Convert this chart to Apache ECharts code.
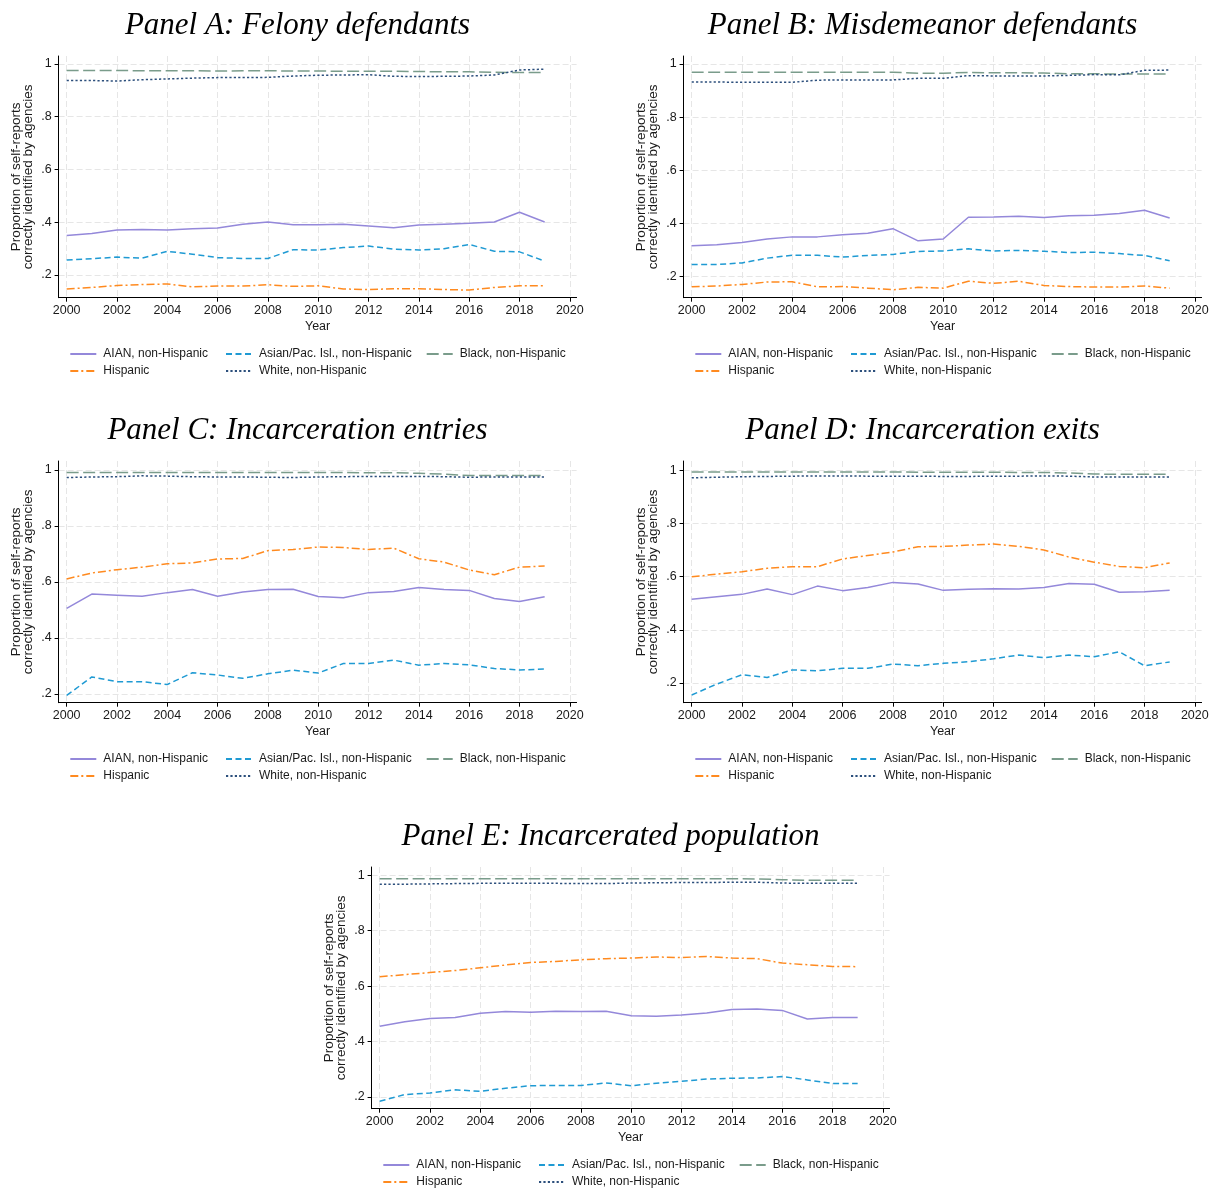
<!DOCTYPE html>
<html>
<head>
<meta charset="utf-8">
<title>Self-reports correctly identified by agencies</title>
<script src="https://cdn.jsdelivr.net/npm/echarts@6/dist/echarts.min.js"></script>
<style>
  html, body { margin: 0; padding: 0; background: #fff; }
  #chart { width: 1217px; height: 1192px; }
</style>
</head>
<body>
<div id="chart"></div>
<script>
  // categories and ticks
  const years = [2000, 2001, 2002, 2003, 2004, 2005, 2006, 2007, 2008, 2009,
                 2010, 2011, 2012, 2013, 2014, 2015, 2016, 2017, 2018, 2019];
  const xTicks = [2000, 2002, 2004, 2006, 2008, 2010, 2012, 2014, 2016, 2018, 2020];
  const yTicks = [0.2, 0.4, 0.6, 0.8, 1];
  const groupNames = ['AIAN, non-Hispanic', 'Asian/Pac. Isl., non-Hispanic', 'Black, non-Hispanic',
                      'Hispanic', 'White, non-Hispanic'];

  // Panel A: Felony defendants
  const aianA  = [0.349, 0.357, 0.370, 0.372, 0.370, 0.375, 0.377, 0.392, 0.400, 0.390, 0.390, 0.392, 0.385, 0.378, 0.389, 0.392, 0.395, 0.400, 0.437, 0.400];
  const asianA = [0.256, 0.261, 0.267, 0.263, 0.289, 0.278, 0.265, 0.262, 0.262, 0.295, 0.294, 0.303, 0.309, 0.297, 0.294, 0.299, 0.315, 0.289, 0.287, 0.252];
  const blackA = [0.975, 0.975, 0.975, 0.974, 0.974, 0.974, 0.973, 0.974, 0.974, 0.973, 0.973, 0.972, 0.972, 0.972, 0.971, 0.970, 0.970, 0.968, 0.967, 0.967];
  const hispA  = [0.146, 0.152, 0.159, 0.163, 0.165, 0.154, 0.157, 0.157, 0.162, 0.156, 0.158, 0.146, 0.144, 0.147, 0.147, 0.144, 0.142, 0.152, 0.158, 0.158];
  const whiteA = [0.937, 0.937, 0.935, 0.940, 0.943, 0.946, 0.948, 0.948, 0.949, 0.954, 0.957, 0.958, 0.959, 0.953, 0.952, 0.953, 0.954, 0.958, 0.977, 0.980];

  // Panel B: Misdemeanor defendants
  const aianB  = [0.316, 0.319, 0.328, 0.341, 0.349, 0.349, 0.357, 0.363, 0.380, 0.334, 0.341, 0.423, 0.424, 0.427, 0.422, 0.429, 0.430, 0.437, 0.449, 0.420];
  const asianB = [0.245, 0.245, 0.251, 0.269, 0.280, 0.280, 0.273, 0.279, 0.283, 0.294, 0.296, 0.304, 0.296, 0.298, 0.295, 0.290, 0.291, 0.286, 0.279, 0.259];
  const blackB = [0.969, 0.969, 0.969, 0.969, 0.969, 0.969, 0.969, 0.969, 0.969, 0.965, 0.965, 0.968, 0.967, 0.967, 0.966, 0.963, 0.963, 0.962, 0.962, 0.962];
  const hispB  = [0.161, 0.164, 0.170, 0.179, 0.180, 0.161, 0.162, 0.156, 0.150, 0.159, 0.156, 0.182, 0.174, 0.182, 0.166, 0.162, 0.160, 0.160, 0.164, 0.156];
  const whiteB = [0.932, 0.932, 0.931, 0.931, 0.931, 0.939, 0.940, 0.940, 0.940, 0.946, 0.946, 0.956, 0.955, 0.955, 0.955, 0.957, 0.960, 0.959, 0.976, 0.977];

  // Panel C: Incarceration entries
  const aianC  = [0.506, 0.557, 0.553, 0.549, 0.562, 0.573, 0.549, 0.564, 0.573, 0.574, 0.548, 0.544, 0.562, 0.566, 0.580, 0.573, 0.570, 0.541, 0.530, 0.547];
  const asianC = [0.195, 0.261, 0.244, 0.244, 0.234, 0.276, 0.268, 0.256, 0.272, 0.285, 0.275, 0.309, 0.309, 0.321, 0.303, 0.309, 0.304, 0.291, 0.286, 0.289];
  const blackC = [0.991, 0.991, 0.991, 0.991, 0.991, 0.991, 0.991, 0.991, 0.991, 0.991, 0.991, 0.991, 0.990, 0.990, 0.988, 0.985, 0.980, 0.980, 0.980, 0.980];
  const hispC  = [0.611, 0.632, 0.644, 0.653, 0.665, 0.668, 0.682, 0.684, 0.712, 0.716, 0.725, 0.723, 0.716, 0.721, 0.683, 0.671, 0.643, 0.626, 0.653, 0.657];
  const whiteC = [0.973, 0.975, 0.976, 0.979, 0.978, 0.976, 0.975, 0.975, 0.974, 0.973, 0.975, 0.976, 0.977, 0.977, 0.977, 0.976, 0.974, 0.975, 0.975, 0.975];

  // Panel D: Incarceration exits
  const aianD  = [0.515, 0.524, 0.533, 0.553, 0.532, 0.564, 0.547, 0.559, 0.578, 0.572, 0.548, 0.552, 0.554, 0.553, 0.559, 0.574, 0.571, 0.541, 0.543, 0.548];
  const asianD = [0.155, 0.196, 0.231, 0.221, 0.249, 0.246, 0.255, 0.255, 0.271, 0.265, 0.274, 0.280, 0.291, 0.305, 0.295, 0.305, 0.299, 0.317, 0.265, 0.279];
  const blackD = [0.993, 0.993, 0.993, 0.993, 0.993, 0.993, 0.993, 0.993, 0.993, 0.992, 0.992, 0.992, 0.992, 0.991, 0.991, 0.989, 0.985, 0.984, 0.984, 0.984];
  const hispD  = [0.599, 0.609, 0.618, 0.631, 0.637, 0.637, 0.666, 0.679, 0.692, 0.712, 0.713, 0.718, 0.722, 0.713, 0.700, 0.673, 0.654, 0.638, 0.633, 0.651];
  const whiteD = [0.971, 0.973, 0.975, 0.976, 0.977, 0.978, 0.978, 0.977, 0.977, 0.977, 0.976, 0.976, 0.977, 0.977, 0.978, 0.977, 0.974, 0.974, 0.974, 0.974];

  // Panel E: Incarcerated population
  const aianE  = [0.455, 0.471, 0.483, 0.486, 0.502, 0.508, 0.505, 0.509, 0.508, 0.509, 0.493, 0.491, 0.495, 0.503, 0.515, 0.517, 0.512, 0.481, 0.486, 0.486];
  const asianE = [0.184, 0.208, 0.214, 0.225, 0.220, 0.231, 0.240, 0.241, 0.241, 0.250, 0.240, 0.249, 0.256, 0.264, 0.267, 0.268, 0.273, 0.261, 0.248, 0.248];
  const blackE = [0.988, 0.988, 0.988, 0.988, 0.988, 0.988, 0.988, 0.988, 0.988, 0.988, 0.988, 0.988, 0.988, 0.988, 0.988, 0.987, 0.984, 0.982, 0.982, 0.982];
  const hispE  = [0.634, 0.641, 0.649, 0.656, 0.666, 0.676, 0.685, 0.689, 0.695, 0.699, 0.701, 0.705, 0.703, 0.707, 0.701, 0.699, 0.683, 0.677, 0.671, 0.670];
  const whiteE = [0.968, 0.968, 0.969, 0.970, 0.971, 0.971, 0.971, 0.971, 0.970, 0.970, 0.972, 0.973, 0.974, 0.974, 0.975, 0.975, 0.972, 0.971, 0.971, 0.971];

  const panels = [
    { title: 'Panel A: Felony defendants',        data: [aianA, asianA, blackA, hispA, whiteA], yMin: 0.113, yMax: 1.030, dx: 0,   dy: 0 },
    { title: 'Panel B: Misdemeanor defendants',   data: [aianB, asianB, blackB, hispB, whiteB], yMin: 0.120, yMax: 1.030, dx: 625, dy: 0 },
    { title: 'Panel C: Incarceration entries',    data: [aianC, asianC, blackC, hispC, whiteC], yMin: 0.169, yMax: 1.032, dx: 0,   dy: 405 },
    { title: 'Panel D: Incarceration exits',      data: [aianD, asianD, blackD, hispD, whiteD], yMin: 0.126, yMax: 1.034, dx: 625, dy: 405 },
    { title: 'Panel E: Incarcerated population',  data: [aianE, asianE, blackE, hispE, whiteE], yMin: 0.157, yMax: 1.030, dx: 313, dy: 811 }
  ];

  // Stata-like line looks, same order as groupNames
  const lineLooks = [
    { color: '#9488da', type: 'solid' },
    { color: '#1f9ad3', type: [6, 3.5] },
    { color: '#7a9c8b', type: [12, 4.5] },
    { color: '#ff8a1f', type: [8, 3, 2, 3] },
    { color: '#2c4f7c', type: [2.2, 2.2] }
  ];

  const sansFont = '"Liberation Sans", Arial, sans-serif';
  const textColor = '#1a1a1a';
  // legend slots inside a panel: [left of icon, vertical centre]
  const legendSlots = [[69.3, 354], [225, 354], [425.7, 354], [69.3, 371], [225, 371]];

  let titles = [], grids = [], xAxes = [], yAxes = [], series = [], legends = [];

  panels.forEach((p, i) => {
    titles.push({
      text: p.title,
      left: 292.5 + p.dx,
      top: 5 + p.dy,
      textAlign: 'center',
      textStyle: {
        fontFamily: '"Liberation Serif", "Times New Roman", serif',
        fontStyle: 'italic',
        fontWeight: 'normal',
        fontSize: 31,
        lineHeight: 31,
        color: '#000'
      }
    });

    grids.push({
      left: 58.6 + p.dx,
      top: 56 + p.dy,
      width: 518,
      height: 241.7,
      containLabel: false,
      outerBoundsMode: 'none'
    });

    xAxes.push({
      type: 'value',
      gridIndex: i,
      min: 1999.68,
      max: 2020.27,
      name: 'Year',
      nameLocation: 'middle',
      nameGap: 22,
      nameTextStyle: { fontFamily: sansFont, fontSize: 12.5, color: textColor },
      axisLine: { show: true, onZero: false, lineStyle: { color: '#000', width: 1 } },
      axisTick: { show: true, length: 4, customValues: xTicks, lineStyle: { color: '#000' } },
      axisLabel: {
        customValues: xTicks,
        margin: 6,
        fontFamily: sansFont,
        fontSize: 12.5,
        color: textColor,
        formatter: v => String(Math.round(v))
      },
      splitLine: { show: true, lineStyle: { color: '#e6e6e6', width: 1, type: [6, 3] } }
    });

    yAxes.push({
      type: 'value',
      gridIndex: i,
      min: p.yMin,
      max: p.yMax,
      name: 'Proportion of self-reports\ncorrectly identified by agencies',
      nameLocation: 'middle',
      nameGap: 24,
      nameTextStyle: { fontFamily: sansFont, fontSize: 13.5, lineHeight: 12, color: textColor },
      axisLine: { show: true, onZero: false, lineStyle: { color: '#000', width: 1 } },
      axisTick: { show: true, length: 4, customValues: yTicks, lineStyle: { color: '#000' } },
      axisLabel: {
        customValues: yTicks,
        margin: 7,
        fontFamily: sansFont,
        fontSize: 12.5,
        color: textColor,
        formatter: v => String(Math.round(v * 10) / 10).replace(/^0/, '')
      },
      splitLine: { show: true, lineStyle: { color: '#e6e6e6', width: 1, type: [6, 3] } }
    });

    p.data.forEach((vals, k) => {
      series.push({
        name: groupNames[k],
        type: 'line',
        xAxisIndex: i,
        yAxisIndex: i,
        symbol: 'none',
        z: 2 + k,
        itemStyle: { color: lineLooks[k].color },
        lineStyle: { color: lineLooks[k].color, width: 1.5, type: lineLooks[k].type },
        data: years.map((yr, j) => [yr, vals[j]])
      });
    });

    groupNames.forEach((name, k) => {
      legends.push({
        data: [name],
        left: legendSlots[k][0] + p.dx,
        top: legendSlots[k][1] - 6 + p.dy,
        padding: 0,
        itemWidth: 26,
        itemHeight: 12,
        selectedMode: false,
        // hide the marker dot ECharts puts on line legend icons
        itemStyle: { opacity: 0 },
        textStyle: {
          fontFamily: sansFont,
          fontSize: 12,
          lineHeight: 12,
          color: textColor,
          padding: [0, 0, 0, 2]
        }
      });
    });
  });

  const chart = echarts.init(document.getElementById('chart'));
  chart.setOption({
    backgroundColor: '#fff',
    animation: false,
    title: titles,
    grid: grids,
    xAxis: xAxes,
    yAxis: yAxes,
    legend: legends,
    series: series
  });
</script>
</body>
</html>
